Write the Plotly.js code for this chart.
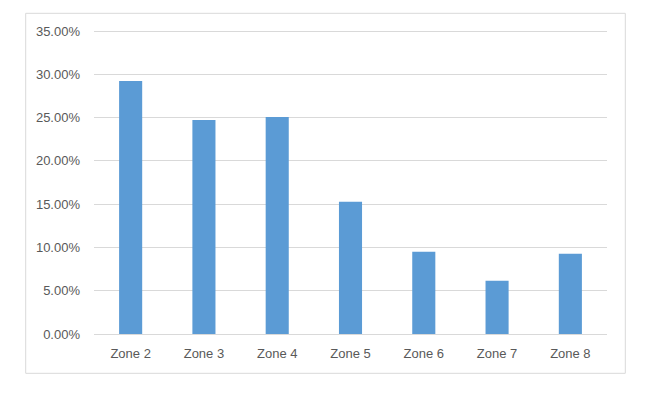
<!DOCTYPE html>
<html>
<head>
<meta charset="utf-8">
<script src="https://cdn.plot.ly/plotly-3.0.1.min.js"></script>
<style>html,body{margin:0;padding:0;background:#fff;}#chart{width:659px;height:396px;}</style>
</head>
<body>
<div id="chart"></div>
<script>
const categories = ["Zone 2", "Zone 3", "Zone 4", "Zone 5", "Zone 6", "Zone 7", "Zone 8"];
const shares = [0.2923, 0.2473, 0.2507, 0.1527, 0.0950, 0.0615, 0.0927];
const yTickValues = [0, 0.05, 0.10, 0.15, 0.20, 0.25, 0.30, 0.35];

const W = 659, H = 396;
const m = {l: 94, r: 52, t: 30, b: 62};
const pw = W - m.l - m.r, ph = H - m.t - m.b;
// outer chart border (pixel positions converted to paper coords)
const bx0 = (25.7 - m.l) / pw, bx1 = (625.3 - m.l) / pw;
const by0 = (H - m.b - 373.3) / ph, by1 = (H - m.b - 13.3) / ph;

const trace = {
  type: 'bar',
  x: categories,
  y: shares,
  marker: {color: '#5b9bd5'},
  hoverinfo: 'x+y'
};

const layout = {
  width: W, height: H,
  margin: m,
  paper_bgcolor: '#ffffff',
  plot_bgcolor: '#ffffff',
  bargap: 0.685,
  showlegend: false,
  font: {family: '"Liberation Sans", Arial, sans-serif', size: 13, color: '#595959'},
  xaxis: {
    showgrid: false,
    showline: true,
    linecolor: '#d9d9d9',
    linewidth: 1,
    zeroline: false,
    ticks: '',
    ticklabelstandoff: 7,
    tickfont: {size: 13, color: '#595959'}
  },
  yaxis: {
    range: [0, 0.3512],
    tickvals: yTickValues,
    tickformat: '.2%',
    showgrid: true,
    gridcolor: '#d9d9d9',
    gridwidth: 1,
    zeroline: false,
    showline: false,
    ticks: '',
    ticklabelstandoff: 13,
    tickfont: {size: 13, color: '#595959'}
  },
  shapes: [{
    type: 'rect', xref: 'paper', yref: 'paper',
    x0: bx0, x1: bx1, y0: by0, y1: by1,
    line: {color: '#d9d9d9', width: 1},
    fillcolor: 'rgba(0,0,0,0)',
    layer: 'below'
  }]
};

Plotly.newPlot('chart', [trace], layout, {displayModeBar: false, staticPlot: true});
</script>
</body>
</html>
